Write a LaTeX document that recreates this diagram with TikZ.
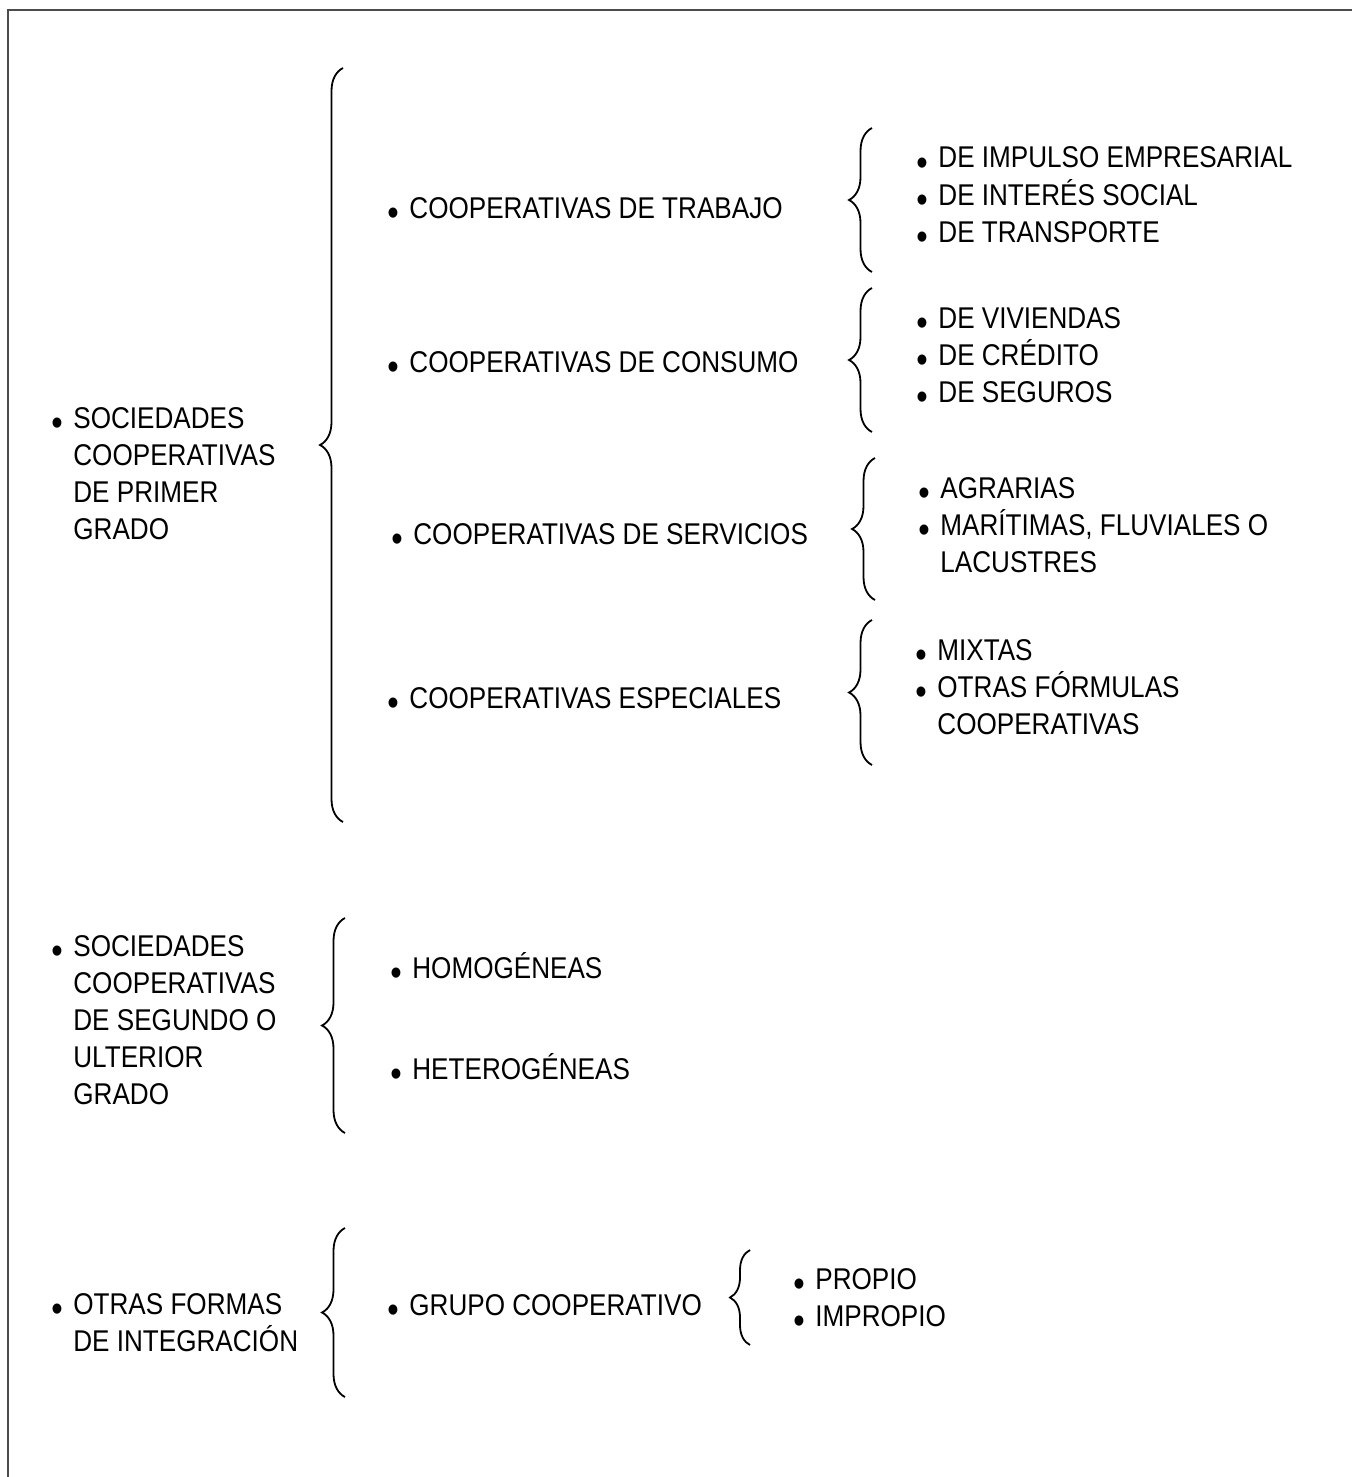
\documentclass[tikz,border=0pt]{standalone}
\usepackage{fontspec}
\setmainfont{Liberation Sans}[FakeStretch=0.87]
\usetikzlibrary{decorations.pathreplacing}
\newcommand{\vin}{\raisebox{-3.7pt}{\scalebox{1.25}{\textbullet}}}
\newcommand{\lista}[1]{\begin{tabular}[t]{@{}p{11pt}@{}l@{}}#1\end{tabular}}

\begin{document}
\begin{tikzpicture}[x=0.5pt, y=-0.5pt,
	item/.style={anchor=base west, inner sep=0pt, font=\fontsize{15pt}{18.5pt}\selectfont},
	llave/.style={line width=0.9pt, decorate, decoration={brace, amplitude=#1}},
	llave/.default=11.5pt]
\useasboundingbox (0,0) rectangle (1352,1477);
\draw[line width=1.2pt, black!70] (1352,10) -- (8,10) -- (8,1477);

% primer grado
\node[item] (soc1) at (51,428) {\lista{\vin & SOCIEDADES\\ & COOPERATIVAS\\ & DE PRIMER\\ & GRADO}};
\draw[llave] (343,822) -- (343,68);
\node[item] (trabajo) at (387,218) {\lista{\vin & COOPERATIVAS DE TRABAJO}};
\node[item] (consumo) at (387,372) {\lista{\vin & COOPERATIVAS DE CONSUMO}};
\node[item] (servicios) at (391,544) {\lista{\vin & COOPERATIVAS DE SERVICIOS}};
\node[item] (especiales) at (387,708) {\lista{\vin & COOPERATIVAS ESPECIALES}};
\draw[llave] (872,272) -- (872,128);
\draw[llave] (872,432) -- (872,288);
\draw[llave] (875,600) -- (875,458);
\draw[llave] (872,765) -- (872,620);
\node[item] (ramA) at (916,168) {\lista{\vin & DE IMPULSO EMPRESARIAL\\ \vin & DE INTERÉS SOCIAL\\ \vin & DE TRANSPORTE}};
\node[item] (ramB) at (916,328) {\lista{\vin & DE VIVIENDAS\\ \vin & DE CRÉDITO\\ \vin & DE SEGUROS}};
\node[item] (ramC) at (918,498) {\lista{\vin & AGRARIAS\\ \vin & MARÍTIMAS, FLUVIALES O\\ & LACUSTRES}};
\node[item] (ramD) at (915,660) {\lista{\vin & MIXTAS\\ \vin & OTRAS FÓRMULAS\\ & COOPERATIVAS}};

% segundo grado
\node[item] (soc2) at (51,956) {\lista{\vin & SOCIEDADES\\ & COOPERATIVAS\\ & DE SEGUNDO O\\ & ULTERIOR\\ & GRADO}};
\draw[llave] (345,1133) -- (345,918);
\node[item] (homo) at (390,978) {\lista{\vin & HOMOGÉNEAS}};
\node[item] (hetero) at (390,1079) {\lista{\vin & HETEROGÉNEAS}};

% otras formas
\node[item] (otras) at (51,1314) {\lista{\vin & OTRAS FORMAS\\ & DE INTEGRACIÓN}};
\draw[llave] (345,1397) -- (345,1228);
\node[item] (grupo) at (387,1315) {\lista{\vin & GRUPO COOPERATIVO}};
\draw[llave=10pt] (750,1345) -- (750,1250);
\node[item] (propio) at (793,1289) {\lista{\vin & PROPIO\\ \vin & IMPROPIO}};
\end{tikzpicture}
\end{document}
